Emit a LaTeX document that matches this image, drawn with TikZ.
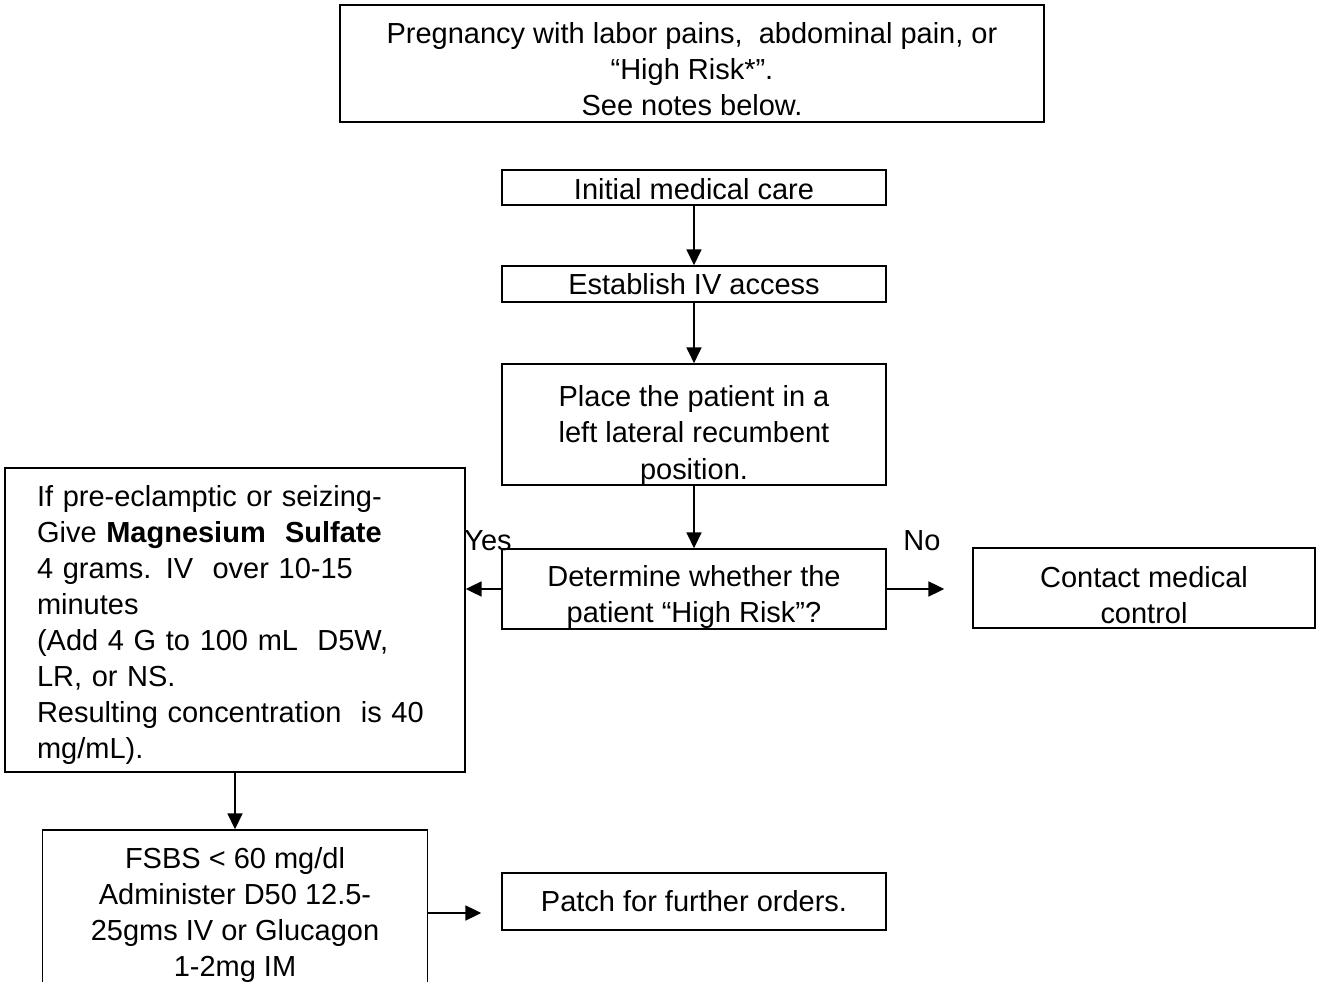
\documentclass[tikz,border=0pt]{standalone}
\usepackage{fontspec}
\setmainfont{Liberation Sans}
\usetikzlibrary{arrows.meta,calc}
\newcommand\txtdown[1]{\rule{0pt}{#1}}

\begin{document}
\begin{tikzpicture}[x=0.02cm,y=-0.02cm,
    box/.style={draw=black,line width=0.9pt,inner sep=0pt,align=center,font=\fontsize{16.5}{20.5}\selectfont},
    lbl/.style={inner sep=0pt,font=\fontsize{16.5}{20.5}\selectfont},
    arr/.style={draw=black,line width=1.1pt,-{Triangle[width=8.5pt,length=9pt]}}]
           \useasboundingbox (0,0) rectangle (1319,982);
           \node[box,minimum width=14.08cm,minimum height=2.34cm] (preg) at (692,63.5) {\txtdown{0.66cm}Pregnancy with labor pains,\ \ abdominal pain, or\\“High Risk*”.\\See notes below.};
           \node[box,minimum width=7.68cm,minimum height=0.7cm] (init) at (694,187.5) {\txtdown{0.5cm}Initial medical care};
           \node[box,minimum width=7.68cm,minimum height=0.72cm] (iv) at (694,284) {Establish IV access};
           \node[box,minimum width=7.68cm,minimum height=2.42cm] (place) at (694,424.5) {\txtdown{0.86cm}Place the patient in a\\left lateral recumbent\\position.};
           \node[box,minimum width=7.68cm,minimum height=1.56cm] (det) at (694,589) {\txtdown{0.76cm}Determine whether the\\patient “High Risk”?};
           \node[box,minimum width=6.84cm,minimum height=1.6cm] (contact) at (1144,588) {\txtdown{0.7cm}Contact medical\\control};
           \node[box,minimum width=9.2cm,minimum height=6.08cm,align=left,text width=7.92cm,inner xsep=0.64cm] (mg) at (235,620) {\txtdown{0.62cm}If pre-eclamptic or seizing-\\Give \textbf{Magnesium\ \ Sulfate}\\4 grams. IV\ \ over 10-15\\minutes\\(Add 4 G to 100 mL\ \ D5W,\\LR, or NS.\\Resulting concentration\ \ is 40\\mg/mL).};
           \node[box,minimum width=7.7cm,minimum height=3.32cm] (fsbs) at (235,913) {\txtdown{0.5cm}FSBS < 60 mg/dl\\Administer D50 12.5-\\25gms IV or Glucagon\\1-2mg IM};
           \node[box,minimum width=7.68cm,minimum height=1.14cm] (patch) at (694,901.5) {Patch for further orders.};
           \node[lbl] (yes) at (488,541) {Yes};
           \node[lbl] (no) at (922,541) {No};
           \draw[arr] (init) -- (iv);
           \draw[arr] (iv) -- (place);
           \draw[arr] (place) -- (det);
           \draw[arr] (det.west) -- (det.west -| mg.east);
           \draw[arr,shorten >=0.56cm] (det.east) -- (det.east -| contact.west);
           \draw[arr] (mg) -- (fsbs);
           \draw[arr,shorten >=0.4cm] (fsbs.east) -- (fsbs.east -| patch.west);
        \end{tikzpicture}
\end{document}
